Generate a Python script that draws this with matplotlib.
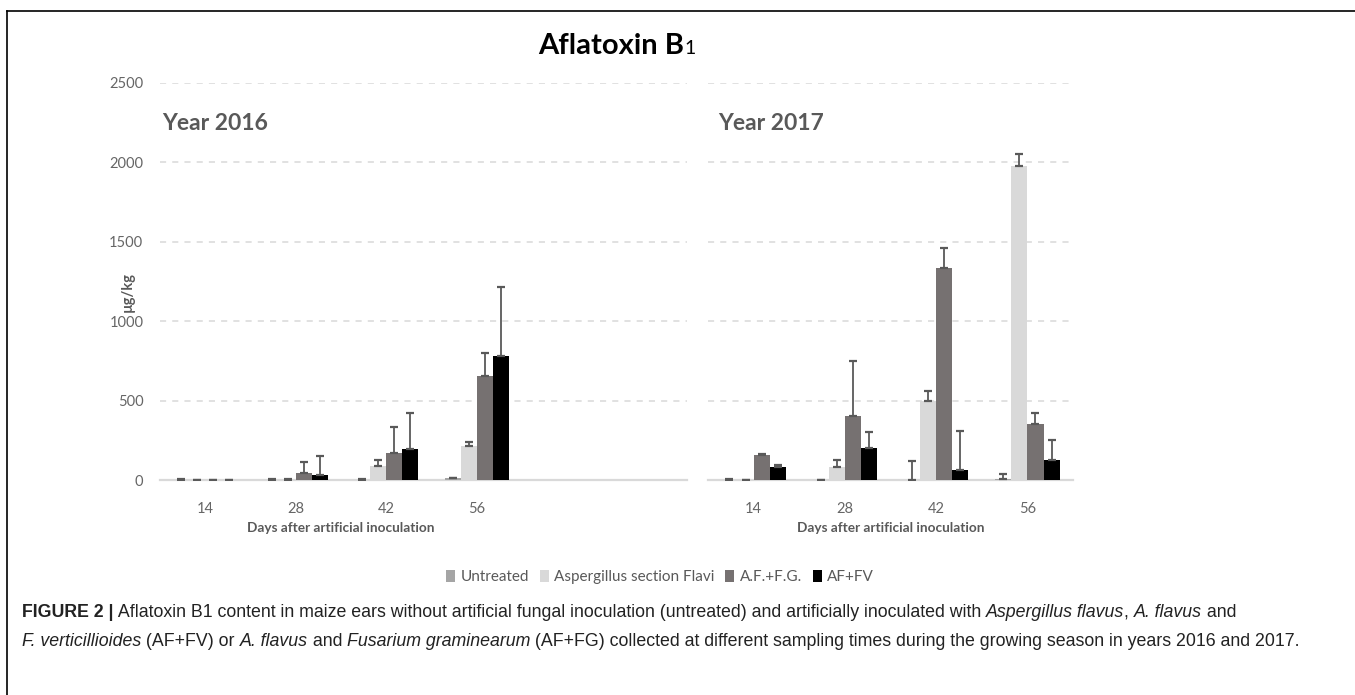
import numpy as np
import matplotlib
matplotlib.use('Agg')
import matplotlib.pyplot as plt
from matplotlib.lines import Line2D
from matplotlib.patches import Patch
from matplotlib.transforms import blended_transform_factory

# Sampling days and aflatoxin B1 means (µg/kg) with upper error bars
days = ['14', '28', '42', '56']
series = ['Untreated', 'Aspergillus section Flavi', 'A.F.+F.G.', 'AF+FV']
colors = ['#a5a5a5', '#d9d9d9', '#767171', '#000000']

untreated_2016 = [3, 3, 3, 10]
aspergillus_2016 = [0, 3, 88, 214]
af_fg_2016 = [0, 45, 170, 655]
af_fv_2016 = [0, 33, 197, 778]
untreated_2016_err = [2, 2, 2, 3]
aspergillus_2016_err = [0, 1, 38, 27]
af_fg_2016_err = [0, 70, 164, 145]
af_fv_2016_err = [0, 117, 225, 438]

untreated_2017 = [2, 2, 0, 5]
aspergillus_2017 = [0, 82, 497, 1975]
af_fg_2017 = [158, 402, 1332, 352]
af_fv_2017 = [82, 202, 65, 128]
untreated_2017_err = [6, 0, 117, 30]
aspergillus_2017_err = [0, 41, 64, 80]
af_fg_2017_err = [5, 345, 128, 72]
af_fv_2017_err = [10, 99, 245, 127]

yticks = [0, 500, 1000, 1500, 2000, 2500]

W, H = 1355, 695
plt.rcParams['font.family'] = ['Lato', 'DejaVu Sans']
TXT = '#595959'
fig = plt.figure(figsize=(W / 100, H / 100), dpi=100)


def px_box(x0, x1, ytop, ybot):
    return [x0 / W, 1 - ybot / H, (x1 - x0) / W, (ybot - ytop) / H]


ax1 = fig.add_axes(px_box(160, 687, 83, 480))
ax2 = fig.add_axes(px_box(708, 1073, 83, 480))

bw = 0.177
offsets = (np.arange(4) - 1.5) * bw
x = np.arange(len(days))


def draw_panel(ax, values, errors, xmax, year, year_x):
    for vals, errs, col, off in zip(values, errors, colors, offsets):
        ax.bar(x + off, vals, bw, color=col, zorder=3)
        e = np.array(errs, dtype=float)
        ax.errorbar(x + off, vals, yerr=[np.zeros_like(e), e], fmt='none',
                    ecolor='#595959', elinewidth=1.3, capsize=3, capthick=1.6,
                    zorder=4)
    ax.set_xlim(-0.5, xmax)
    ax.set_ylim(0, 2500)
    ax.set_yticks(yticks)
    for yv in yticks[1:]:
        ax.axhline(yv, color='#d9d9d9', lw=1.1, ls=(0, (4, 4)), zorder=1)
    for s in ['top', 'right', 'left']:
        ax.spines[s].set_visible(False)
    ax.spines['bottom'].set_color('#d9d9d9')
    ax.spines['bottom'].set_linewidth(1.6)
    ax.set_xticks(x)
    ax.set_xticklabels(days, fontsize=10.5, color='#666666')
    ax.tick_params(axis='both', length=0)
    ax.tick_params(axis='x', pad=16)
    tr = blended_transform_factory(ax.transData, fig.transFigure)
    ax.text(1.5, 1 - 528 / H, 'Days after artificial inoculation', transform=tr,
            ha='center', va='center', fontsize=9.8, fontweight='bold', color=TXT)
    fig.text(year_x / W, 1 - 123 / H, year, ha='left', va='center',
             fontsize=16.5, fontweight='bold', color=TXT)


draw_panel(ax1,
           [untreated_2016, aspergillus_2016, af_fg_2016, af_fv_2016],
           [untreated_2016_err, aspergillus_2016_err, af_fg_2016_err, af_fv_2016_err],
           (687 - 160) / 90.5 - 0.5, 'Year 2016', 162)
draw_panel(ax2,
           [untreated_2017, aspergillus_2017, af_fg_2017, af_fv_2017],
           [untreated_2017_err, aspergillus_2017_err, af_fg_2017_err, af_fv_2017_err],
           3.5, 'Year 2017', 718)

ax1.set_yticklabels([str(v) for v in yticks], fontsize=10.5, color='#666666')
ax1.tick_params(axis='y', pad=12)
ax2.set_yticklabels([])

fig.text(128 / W, 1 - 292 / H, 'µg/kg', rotation=90, ha='center', va='center',
         fontsize=10.5, fontweight='bold', color=TXT)

renderer = fig.canvas.get_renderer()


def draw_runs(xpos, ypos, runs, ha='left'):
    texts = [fig.text(0, ypos, s, va='baseline', **props) for s, props in runs]
    widths = [t.get_window_extent(renderer).width / fig.bbox.width for t in texts]
    start = xpos - sum(widths) / 2 if ha == 'center' else xpos
    for t, w in zip(texts, widths):
        t.set_x(start)
        start += w


# Title with subscript
draw_runs(617 / W, 1 - 54 / H, [
    ('Aflatoxin B', dict(fontsize=21, fontweight='bold', color='black')),
    ('1', dict(fontsize=14, color='black')),
], ha='center')

# Legend
handles = [Patch(facecolor=c, edgecolor='none') for c in colors]
fig.legend(handles, series, loc='center', bbox_to_anchor=(660 / W, 1 - 577 / H),
           ncol=4, frameon=False, fontsize=11, handlelength=0.6,
           handleheight=0.9, handletextpad=0.35, columnspacing=0.7,
           labelcolor=TXT)

# Caption
cap = ['Liberation Sans', 'DejaVu Sans']
n = dict(fontsize=12.8, family=cap, color='#222222')
b = dict(fontsize=12.8, family=cap, color='#222222', fontweight='bold')
it = dict(fontsize=12.8, family=cap, color='#222222', style='italic')
draw_runs(22 / W, 1 - 617 / H, [
    ('FIGURE 2 |', b),
    (' Aflatoxin B1 content in maize ears without artificial fungal inoculation '
     '(untreated) and artificially inoculated with ', n),
    ('Aspergillus flavus', it), (', ', n), ('A. flavus', it), (' and', n),
])
draw_runs(22 / W, 1 - 646 / H, [
    ('F. verticillioides', it), (' (AF+FV) or ', n), ('A. flavus', it),
    (' and ', n), ('Fusarium graminearum', it),
    (' (AF+FG) collected at different sampling times during the growing season '
     'in years 2016 and 2017.', n),
])

# Frame lines along the top and left edges
fig.add_artist(Line2D([7 / W, 7 / W], [0, 1 - 11 / H], color='black', lw=1.2))
fig.add_artist(Line2D([7 / W, 1], [1 - 11 / H, 1 - 11 / H], color='black', lw=1.2))

fig.savefig('out.png', dpi=100)
